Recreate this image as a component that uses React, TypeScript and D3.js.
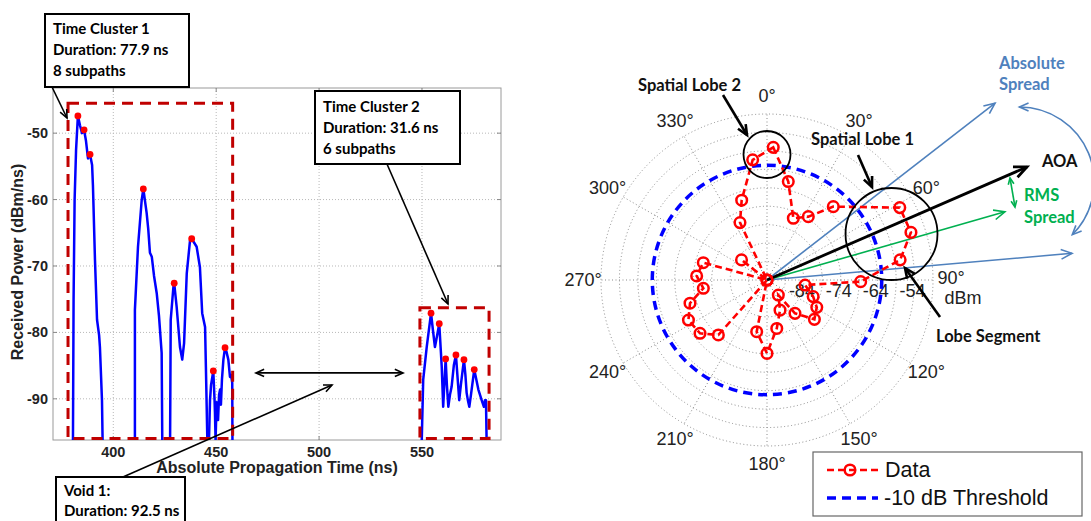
import React, { useEffect, useRef } from 'react';
import * as d3 from 'd3';

// ---------- left panel: power delay profile ----------
const timeTicks = [400, 450, 500, 550];
const powerTicks = [-90, -80, -70, -60, -50];

// trace pieces, [time (ns), power (dBm/ns)]; every piece drops to the floor at both ends
const lobeA: [number, number][] = [
  [380.4, -96.2], [380.7, -75.1], [381.2, -60.1], [381.9, -52.6], [382.8, -47.4], [383.8, -48.8],
  [384.8, -50.0], [385.8, -49.5], [386.7, -51.1], [387.7, -53.8], [388.7, -53.2], [389.7, -54.8],
  [390.1, -57.8], [391.1, -69.1], [392.1, -78.1], [393.1, -80.4], [393.5, -82.2], [394.5, -90.2],
  [394.8, -96.2],
];
const lobeB: [number, number][] = [
  [410.5, -96.2], [410.5, -76.6], [412.0, -67.1], [413.8, -60.1], [414.6, -58.4], [416.2, -62.0],
  [417.0, -64.5], [417.8, -68.0], [418.7, -68.6], [419.8, -71.5], [421.1, -74.1], [422.2, -77.5],
  [423.5, -83.1], [423.8, -96.2],
];
const lobeC: [number, number][] = [
  [427.6, -96.2], [427.9, -78.1], [429.2, -73.2], [429.6, -72.6], [430.8, -76.2], [432.4, -82.2],
  [433.5, -84.1], [434.4, -81.6], [435.7, -71.1], [437.3, -66.1], [438.1, -65.9], [440.5, -67.1],
  [442.1, -70.2], [443.2, -77.1], [444.6, -79.2], [445.0, -85.2], [445.7, -96.2],
];
const lobeD: [number, number][] = [
  [446.5, -96.2], [447.0, -90.2], [447.5, -87.9], [448.6, -85.8], [449.2, -90.2], [449.4, -92.1],
  [449.7, -96.2], [450.2, -90.5], [450.9, -93.2], [451.4, -89.4], [451.9, -88.6], [452.3, -90.9],
  [452.8, -87.1], [453.5, -84.1], [454.3, -82.3], [455.0, -82.9], [455.9, -84.1], [456.7, -86.7],
  [457.2, -86.4], [457.8, -87.6], [457.9, -96.2],
];
const lobeE: [number, number][] = [
  [549.9, -96.2], [550.6, -87.1], [552.3, -82.2], [554.4, -77.1], [555.3, -79.6], [556.3, -82.2],
  [557.4, -80.4], [558.4, -78.7], [559.6, -85.2], [560.3, -91.2], [561.5, -84.0], [562.1, -87.9],
  [562.8, -91.2], [563.6, -89.4], [564.4, -88.2], [565.5, -84.9], [566.5, -83.4], [567.2, -86.4],
  [568.1, -90.2], [568.9, -87.9], [570.4, -84.1], [571.1, -86.4], [571.7, -89.1], [572.3, -90.2],
  [573.0, -91.2], [573.8, -89.4], [575.4, -85.6], [576.2, -86.8], [577.4, -88.6], [578.2, -89.4],
  [579.0, -90.2], [580.1, -91.2], [580.6, -90.2], [581.1, -90.2], [581.4, -96.2],
];

const peakTime = [382.8, 385.8, 388.7, 414.6, 429.6, 438.1, 448.6, 454.3, 554.4, 558.4, 561.5, 566.5, 570.4, 575.4];
const peakPower = [-47.4, -49.5, -53.2, -58.4, -72.6, -65.9, -85.8, -82.3, -77.1, -78.7, -84.0, -83.4, -84.1, -85.6];

const clusterStart = [378.0, 549.0];
const clusterEnd = [458.0, 582.6];
const clusterTop = [-45.5, -76.3];

// ---------- right panel: AOA polar plot ----------
const aoaAngle = [
  2.7, 12.2, 23.1, 33.1, 42.1, 61.4, 71.7, 81.4, 91, 97.5, 109.8, 118.8, 129.7, 140, 143, 156.6, 168.6,
  180, 191.3, 201, 221.5, 231.5, 243, 253.2, 262.6, 273.3, 285.2, 297, 308.3, 320, 334.8, 342.4, 353.2,
];
const aoaPower = [
  -58.0, -66.7, -75.8, -73.5, -67.2, -53.0, -52.9, -57.5, -68.6, -83.6, -80.7, -78.6, -77.3, -82.2, -88.9,
  -85.1, -80.6, -74.1, -79.7, -94, -74.1, -70.8, -70.1, -72.2, -76.6, -74.9, -76.1, -94, -85.2, -94, -76.8,
  -71.3, -61.2,
];
const ringLevels = [-89, -84, -79, -74, -69, -64, -59, -54, -49];
const ringLabels = [-84, -74, -64, -54];
const spokeAngles = [0, 30, 60, 90, 120, 150, 180, 210, 240, 270, 300, 330];

const ARIAL = "'Liberation Sans', Arial, sans-serif";
const CALIBRI = "Lato, 'Open Sans', sans-serif";

type G = d3.Selection<SVGGElement, unknown, null, undefined>;

function arrow(g: G, x1: number, y1: number, x2: number, y2: number, color = '#000', width = 1.8, head = 10, both = false) {
  g.append('line')
    .attr('x1', x1).attr('y1', y1).attr('x2', x2).attr('y2', y2)
    .attr('stroke', color).attr('stroke-width', width);
  const headAt = (tx: number, ty: number, fx: number, fy: number) => {
    const a = Math.atan2(ty - fy, tx - fx);
    const p = d3.path();
    p.moveTo(tx - head * Math.cos(a - 0.42), ty - head * Math.sin(a - 0.42));
    p.lineTo(tx, ty);
    p.lineTo(tx - head * Math.cos(a + 0.42), ty - head * Math.sin(a + 0.42));
    g.append('path').attr('d', p.toString()).attr('fill', 'none')
      .attr('stroke', color).attr('stroke-width', width);
  };
  headAt(x2, y2, x1, y1);
  if (both) headAt(x1, y1, x2, y2);
}

function noteBox(g: G, x: number, y: number, w: number, h: number, lines: string[], baselines: number[]) {
  g.append('rect').attr('x', x).attr('y', y).attr('width', w).attr('height', h)
    .attr('fill', '#fff').attr('stroke', '#000').attr('stroke-width', 2);
  lines.forEach((s, i) => {
    g.append('text').attr('x', x + 8).attr('y', baselines[i])
      .attr('font-family', CALIBRI).attr('font-weight', 'bold').attr('font-size', 15)
      .text(s);
  });
}

function drawDelayProfile(g: G) {
  const x = d3.scaleLinear().domain([370.7, 588.4]).range([53, 501]);
  const y = d3.scaleLinear().domain([-96.2, -43.2]).range([440, 88]);
  const [x0, x1] = x.range();
  const [yb, yt] = y.range();

  // grid
  g.selectAll('.vg').data(timeTicks).enter().append('line')
    .attr('x1', (d) => x(d)).attr('x2', (d) => x(d)).attr('y1', yt).attr('y2', yb)
    .attr('stroke', '#b8b8b8').attr('stroke-dasharray', '1,2');
  g.selectAll('.hg').data(powerTicks).enter().append('line')
    .attr('x1', x0).attr('x2', x1).attr('y1', (d) => y(d)).attr('y2', (d) => y(d))
    .attr('stroke', '#b8b8b8').attr('stroke-dasharray', '1,2');

  // frame + ticks
  g.append('rect').attr('x', x0).attr('y', yt).attr('width', x1 - x0).attr('height', yb - yt)
    .attr('fill', 'none').attr('stroke', '#9a9a9a');
  powerTicks.forEach((d) => {
    g.append('line').attr('x1', x0).attr('x2', x0 + 4).attr('y1', y(d)).attr('y2', y(d)).attr('stroke', '#888');
    g.append('line').attr('x1', x1 - 4).attr('x2', x1).attr('y1', y(d)).attr('y2', y(d)).attr('stroke', '#888');
  });
  timeTicks.forEach((d) => {
    g.append('line').attr('x1', x(d)).attr('x2', x(d)).attr('y1', yb).attr('y2', yb - 4).attr('stroke', '#888');
    g.append('line').attr('x1', x(d)).attr('x2', x(d)).attr('y1', yt).attr('y2', yt + 4).attr('stroke', '#888');
  });

  g.selectAll('.yt').data(powerTicks).enter().append('text')
    .attr('x', x0 - 5).attr('y', (d) => y(d) + 5).attr('text-anchor', 'end')
    .attr('font-family', ARIAL).attr('font-weight', 'bold').attr('font-size', 14.5).attr('fill', '#222')
    .text((d) => d);
  g.selectAll('.xt').data(timeTicks).enter().append('text')
    .attr('x', (d) => x(d)).attr('y', yb + 17).attr('text-anchor', 'middle')
    .attr('font-family', ARIAL).attr('font-weight', 'bold').attr('font-size', 14.5).attr('fill', '#222')
    .text((d) => d);

  g.append('text').attr('x', (x0 + x1) / 2).attr('y', 473).attr('text-anchor', 'middle')
    .attr('font-family', ARIAL).attr('font-weight', 'bold').attr('font-size', 16).attr('fill', '#222')
    .text('Absolute Propagation Time (ns)');
  g.append('text').attr('transform', 'translate(23,262) rotate(-90)').attr('text-anchor', 'middle')
    .attr('font-family', ARIAL).attr('font-weight', 'bold').attr('font-size', 16).attr('fill', '#222')
    .text('Received Power (dBm/ns)');

  // trace
  g.append('clipPath').attr('id', 'pdpClip').append('rect')
    .attr('x', x0).attr('y', yt).attr('width', x1 - x0).attr('height', yb - yt);
  const line = d3.line<[number, number]>().x((d) => x(d[0])).y((d) => y(d[1]));
  g.append('g').attr('clip-path', 'url(#pdpClip)')
    .selectAll('path').data([lobeA, lobeB, lobeC, lobeD, lobeE]).enter().append('path')
    .attr('d', (d) => line(d)).attr('fill', 'none').attr('stroke', '#0000ff')
    .attr('stroke-width', 2.5).attr('stroke-linejoin', 'round');

  // cluster boxes
  clusterStart.forEach((t0, i) => {
    g.append('rect')
      .attr('x', x(t0)).attr('y', y(clusterTop[i]))
      .attr('width', x(clusterEnd[i]) - x(t0)).attr('height', yb - 1.5 - y(clusterTop[i]))
      .attr('fill', 'none').attr('stroke', '#c00000').attr('stroke-width', 3)
      .attr('stroke-dasharray', '11,7');
  });

  g.selectAll('.pk').data(peakTime).enter().append('circle')
    .attr('cx', (d) => x(d)).attr('cy', (_, i) => y(peakPower[i])).attr('r', 3.4)
    .attr('fill', '#ff0000');

  // annotations
  noteBox(g, 45, 14, 144, 73, ['Time Cluster 1', 'Duration: 77.9 ns', '8 subpaths'], [34, 55, 76]);
  arrow(g, 52, 87, 67, 118, '#000', 1.6, 9);
  noteBox(g, 315, 91, 145, 73, ['Time Cluster 2', 'Duration: 31.6 ns', '6 subpaths'], [112, 133, 154]);
  arrow(g, 387, 164, 448, 304, '#000', 1.6, 9);
  noteBox(g, 56, 477, 129, 60, ['Void 1:', 'Duration: 92.5 ns'], [496, 516]);
  arrow(g, 123, 477, 332, 385, '#000', 1.6, 9);
  arrow(g, x(469.3), y(-86.1), x(540.8), y(-86.1), '#000', 1.6, 9, true);
}

function drawPolar(g: G) {
  const cx = 767;
  const cy = 280;
  const R = 166;
  const r = d3.scaleLinear().domain([-94, -49]).range([0, R]);
  const rad = (deg: number) => (deg * Math.PI) / 180;
  const px = (deg: number, rr: number) => cx + rr * Math.sin(rad(deg));
  const py = (deg: number, rr: number) => cy - rr * Math.cos(rad(deg));

  const grid = g.append('g').attr('stroke', '#8a8a8a').attr('fill', 'none')
    .attr('stroke-dasharray', '1,2.5').attr('stroke-width', 1);
  ringLevels.forEach((lv) => grid.append('circle').attr('cx', cx).attr('cy', cy).attr('r', r(lv)));
  spokeAngles.forEach((a) => grid.append('line')
    .attr('x1', cx).attr('y1', cy).attr('x2', px(a, R)).attr('y2', py(a, R)));

  spokeAngles.forEach((a) => {
    g.append('text').attr('x', px(a, R + 18)).attr('y', py(a, R + 18) + (a === 90 ? 4 : 6))
      .attr('text-anchor', 'middle').attr('font-family', ARIAL).attr('font-size', 18).attr('fill', '#222')
      .text(`${a}°`);
  });
  g.append('text').attr('x', px(90, R + 30)).attr('y', cy + 24)
    .attr('text-anchor', 'middle').attr('font-family', ARIAL).attr('font-size', 18).attr('fill', '#222')
    .text('dBm');
  ringLabels.forEach((lv) => {
    g.append('text').attr('x', cx + r(lv) - 2).attr('y', cy + 17)
      .attr('text-anchor', 'middle').attr('font-family', ARIAL).attr('font-size', 18).attr('fill', '#222')
      .text(lv);
  });

  // -10 dB threshold
  const threshold = (d3.max(aoaPower) as number) - 10;
  g.append('circle').attr('cx', cx).attr('cy', cy).attr('r', r(threshold))
    .attr('fill', 'none').attr('stroke', '#0000ff').attr('stroke-width', 3.5).attr('stroke-dasharray', '9,6');

  // annotation lines from origin
  const ray = (deg: number, len: number, color: string, w: number, head: number) =>
    arrow(g, cx, cy, px(deg, len), py(deg, len), color, w, head);
  ray(52.2, 288.6, '#4f81bd', 1.6, 12);
  ray(85, 306.2, '#4f81bd', 1.6, 12);
  ray(74, 247.5, '#00b050', 1.6, 12);
  ray(66.5, 283.5, '#000', 2.8, 14);

  // data
  const idx = d3.range(aoaAngle.length);
  const radial = d3.lineRadial<number>()
    .angle((i) => rad(aoaAngle[i])).radius((i) => r(aoaPower[i])).curve(d3.curveLinearClosed);
  const dg = g.append('g').attr('transform', `translate(${cx},${cy})`);
  dg.append('path').attr('d', radial(idx)).attr('fill', 'none').attr('stroke', '#ff0000')
    .attr('stroke-width', 2.6).attr('stroke-dasharray', '7,4');
  dg.selectAll('circle').data(idx).enter().append('circle')
    .attr('cx', (i) => r(aoaPower[i]) * Math.sin(rad(aoaAngle[i])))
    .attr('cy', (i) => -r(aoaPower[i]) * Math.cos(rad(aoaAngle[i])))
    .attr('r', 5.3).attr('fill', 'none').attr('stroke', '#ff0000').attr('stroke-width', 2.5);

  // lobe circles
  g.append('circle').attr('cx', 767).attr('cy', 154.5).attr('r', 23.5)
    .attr('fill', 'none').attr('stroke', '#000').attr('stroke-width', 1.8);
  g.append('circle').attr('cx', 891.5).attr('cy', 234).attr('r', 46)
    .attr('fill', 'none').attr('stroke', '#000').attr('stroke-width', 1.8);

  const label = (x: number, y: number, s: string, color = '#111') =>
    g.append('text').attr('x', x).attr('y', y)
      .attr('font-family', CALIBRI).attr('font-weight', 'bold').attr('font-size', 16.5).attr('fill', color).text(s);

  label(638, 91, 'Spatial Lobe 2');
  arrow(g, 723, 95, 747, 135, '#000', 2.6, 11);
  label(811, 145, 'Spatial Lobe 1');
  arrow(g, 858, 155, 872, 187, '#000', 2.6, 11);
  label(936, 342, 'Lobe Segment');
  arrow(g, 940, 317, 905, 268, '#000', 2.6, 11);
  label(1042, 167, 'AOA');
  label(999, 69, 'Absolute', '#4f81bd');
  label(999, 90, 'Spread', '#4f81bd');
  label(1024, 201, 'RMS', '#00b050');
  label(1024, 223, 'Spread', '#00b050');

  // RMS spread double arrow
  arrow(g, 1010, 178, 1015, 207, '#00b050', 1.6, 7, true);

  // absolute spread curved double arrow
  const ac = [1019.4, 181.8];
  const ar = 74.8;
  const a0 = -Math.PI / 2;
  const a1 = Math.PI / 4;
  const arc = d3.path();
  arc.arc(ac[0], ac[1], ar, a0, a1, false);
  g.append('path').attr('d', arc.toString()).attr('fill', 'none').attr('stroke', '#4f81bd').attr('stroke-width', 1.6);
  const tip = (a: number, dir: number) => {
    const tx = ac[0] + ar * Math.cos(a);
    const ty = ac[1] + ar * Math.sin(a);
    const fx = tx - dir * 10 * -Math.sin(a);
    const fy = ty - dir * 10 * Math.cos(a);
    const ang = Math.atan2(ty - fy, tx - fx);
    const p = d3.path();
    p.moveTo(tx - 10 * Math.cos(ang - 0.42), ty - 10 * Math.sin(ang - 0.42));
    p.lineTo(tx, ty);
    p.lineTo(tx - 10 * Math.cos(ang + 0.42), ty - 10 * Math.sin(ang + 0.42));
    g.append('path').attr('d', p.toString()).attr('fill', 'none').attr('stroke', '#4f81bd').attr('stroke-width', 1.6);
  };
  tip(a0, -1);
  tip(a1, 1);

  // legend
  const lg = g.append('g');
  lg.append('rect').attr('x', 813).attr('y', 452).attr('width', 269).attr('height', 64)
    .attr('fill', '#fff').attr('stroke', '#666').attr('stroke-width', 1.2);
  lg.append('line').attr('x1', 827).attr('x2', 878).attr('y1', 470).attr('y2', 470)
    .attr('stroke', '#ff0000').attr('stroke-width', 2.6).attr('stroke-dasharray', '7,4');
  lg.append('circle').attr('cx', 850).attr('cy', 470).attr('r', 5.3)
    .attr('fill', 'none').attr('stroke', '#ff0000').attr('stroke-width', 2.5);
  lg.append('line').attr('x1', 827).attr('x2', 878).attr('y1', 498).attr('y2', 498)
    .attr('stroke', '#0000ff').attr('stroke-width', 3.5).attr('stroke-dasharray', '9,6');
  lg.append('text').attr('x', 885).attr('y', 477).attr('font-family', ARIAL).attr('font-size', 21.5)
    .attr('fill', '#111').text('Data');
  lg.append('text').attr('x', 884).attr('y', 505).attr('font-family', ARIAL).attr('font-size', 21.5)
    .attr('fill', '#111').text('-10 dB Threshold');
}

export default function App() {
  const svgRef = useRef<SVGSVGElement>(null);

  useEffect(() => {
    const svg = d3.select(svgRef.current);
    svg.selectAll('*').remove();
    drawDelayProfile(svg.append('g') as unknown as G);
    drawPolar(svg.append('g') as unknown as G);
  }, []);

  return (
    <svg
      ref={svgRef}
      width={1091}
      height={521}
      style={{ position: 'absolute', left: 0, top: 0, background: '#fff' }}
    />
  );
}
